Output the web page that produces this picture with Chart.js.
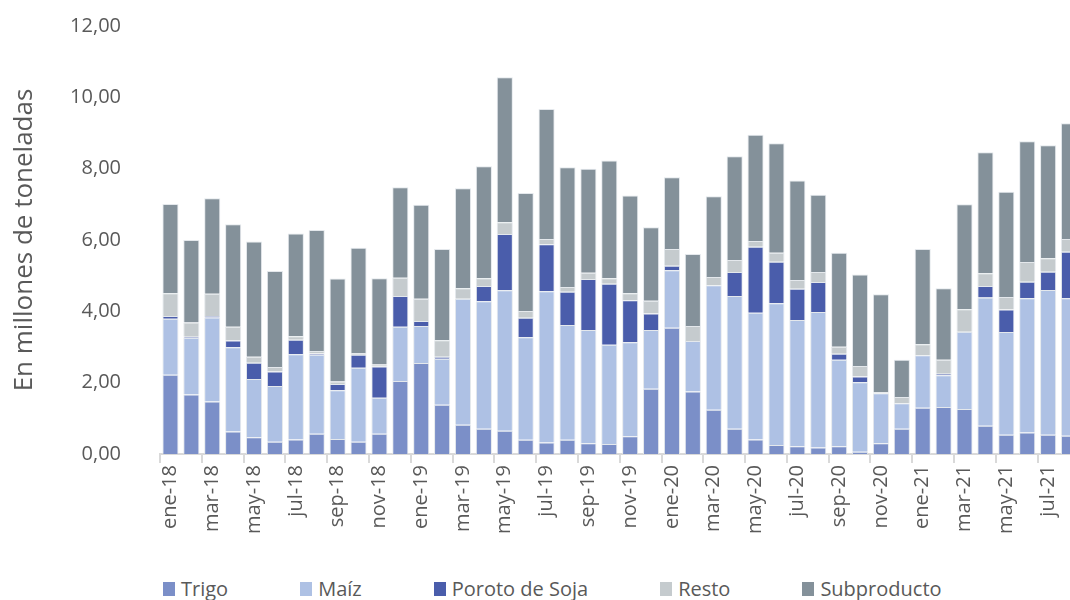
<!DOCTYPE html>
<html>
<head>
<meta charset="utf-8">
<script src="https://cdn.jsdelivr.net/npm/chart.js@4"></script>
<style>
  html, body { margin: 0; padding: 0; overflow: hidden; background: #fff; }
  #wrap { position: relative; width: 1095px; height: 600px; }
  #chartBox { position: absolute; left: 0; top: 0; width: 1095px; height: 560px; }
  #leyenda { position: absolute; left: 163px; top: 575px; display: flex; font-family: "Open Sans", sans-serif; font-size: 20px; color: #595959; }
  .item { display: flex; align-items: center; margin-right: 72px; white-space: nowrap; }
  .caja { width: 12px; height: 14px; margin-right: 6px; }
</style>
</head>
<body>
<div id="wrap">
  <div id="chartBox"><canvas id="grafico"></canvas></div>
  <div id="leyenda"></div>
</div>
<script>
// meses ene-18 .. ago-21
const meses = ['ene','feb','mar','abr','may','jun','jul','ago','sep','oct','nov','dic'];
const etiquetas = [];
for (let a = 18; a <= 21; a++) {
    meses.forEach((m, i) => { if (a < 21 || i < 8) etiquetas.push(m + '-' + a); });
}

// valores en millones de toneladas
const trigo = [2.22,1.67,1.47,0.63,0.47,0.34,0.41,0.57,0.42,0.34,0.57,2.05,
               2.55,1.38,0.82,0.71,0.65,0.40,0.32,0.40,0.30,0.28,0.50,1.83,
               3.54,1.75,1.24,0.71,0.41,0.25,0.22,0.18,0.22,0.06,0.30,0.71,
               1.30,1.32,1.26,0.79,0.54,0.60,0.54,0.51];
const maiz = [1.57,1.59,2.36,2.36,1.63,1.57,2.39,2.21,1.37,2.08,1.01,1.52,
              1.04,1.29,3.53,3.57,3.94,2.87,4.24,3.22,3.18,2.78,2.63,1.65,
              1.61,1.42,3.49,3.72,3.55,3.98,3.54,3.80,2.42,1.95,1.40,0.71,
              1.47,0.89,2.17,3.60,2.88,3.77,4.06,3.86];
const soja = [0.08,0.03,0.04,0.19,0.46,0.40,0.40,0.04,0.17,0.36,0.87,0.86,
              0.14,0.06,0.00,0.43,1.58,0.55,1.32,0.93,1.43,1.71,1.18,0.46,
              0.13,0.00,0.00,0.67,1.85,1.16,0.87,0.84,0.17,0.16,0.00,0.00,
              0.00,0.04,0.00,0.32,0.63,0.46,0.51,1.30];
const resto = [0.64,0.40,0.62,0.39,0.17,0.13,0.10,0.07,0.07,0.05,0.06,0.51,
               0.62,0.46,0.30,0.22,0.33,0.19,0.15,0.13,0.17,0.16,0.20,0.36,
               0.47,0.42,0.23,0.34,0.16,0.25,0.25,0.28,0.20,0.30,0.03,0.18,
               0.31,0.39,0.63,0.36,0.35,0.55,0.38,0.36];
const subproducto = [2.50,2.31,2.68,2.87,3.23,2.69,2.88,3.39,2.89,2.95,2.42,2.54,
                     2.64,2.56,2.80,3.14,4.06,3.31,3.64,3.36,2.92,3.30,2.74,2.06,
                     2.01,2.02,2.27,2.91,2.98,3.07,2.79,2.17,2.63,2.56,2.75,1.04,
                     2.67,2.01,2.94,3.39,2.95,3.39,3.17,3.24];

const series = [
    { nombre: 'Trigo', datos: trigo, color: '#7b8fc8' },
    { nombre: 'Maíz', datos: maiz, color: '#aec1e4' },
    { nombre: 'Poroto de Soja', datos: soja, color: '#4a5dab' },
    { nombre: 'Resto', datos: resto, color: '#c5cbce' },
    { nombre: 'Subproducto', datos: subproducto, color: '#84919a' }
];

const gris = '#595959';
const fuente = '"Open Sans", sans-serif';

const ctx = document.getElementById('grafico').getContext('2d');
const grafico = new Chart(ctx, {
    type: 'bar',
    data: {
        labels: etiquetas,
        datasets: series.map(s => ({
            label: s.nombre,
            data: s.datos,
            backgroundColor: s.color,
            borderColor: 'rgba(225,229,234,0.9)',
            borderWidth: 1,
            barPercentage: 0.77,
            categoryPercentage: 1
        }))
    },
    options: {
        responsive: true,
        maintainAspectRatio: false,
        animation: false,
        layout: { padding: { top: 26, right: 0, bottom: 0, left: 0 } },
        plugins: { legend: { display: false }, tooltip: { enabled: false } },
        scales: {
            x: {
                stacked: true,
                afterFit: (s) => { s.height = 106; },
                border: { display: true, color: '#d9d9d9', width: 2 },
                grid: {
                    offset: true,
                    drawOnChartArea: false,
                    drawTicks: true,
                    tickLength: 9,
                    lineWidth: 2,
                    color: (c) => (c.index % 2 === 0 ? '#d9d9d9' : 'rgba(0,0,0,0)')
                },
                ticks: {
                    autoSkip: false,
                    maxRotation: 90,
                    minRotation: 90,
                    padding: 2,
                    color: gris,
                    font: { family: fuente, size: 20 },
                    callback: function (v, i) { return i % 2 === 0 ? this.getLabelForValue(v) : ''; }
                }
            },
            y: {
                stacked: true,
                min: 0,
                max: 12,
                afterFit: (s) => { s.width = 160; },
                border: { display: false },
                // las marcas no se dibujan; su largo solo separa las etiquetas del eje
                grid: { display: false, drawTicks: true, tickLength: 37 },
                ticks: {
                    stepSize: 2,
                    padding: 2,
                    color: gris,
                    font: { family: fuente, size: 20 },
                    callback: (v) => v.toFixed(2).replace('.', ',')
                },
                title: {
                    display: true,
                    text: 'En millones de toneladas',
                    color: gris,
                    font: { family: fuente, size: 26 },
                    padding: { top: 9, bottom: 0 }
                }
            }
        }
    }
});

// leyenda en HTML a partir de los datasets
const leyenda = document.getElementById('leyenda');
grafico.data.datasets.forEach(ds => {
    const item = document.createElement('div');
    item.className = 'item';
    const caja = document.createElement('span');
    caja.className = 'caja';
    caja.style.background = ds.backgroundColor;
    const txt = document.createElement('span');
    txt.textContent = ds.label;
    item.appendChild(caja);
    item.appendChild(txt);
    leyenda.appendChild(item);
});
</script>
</body>
</html>
